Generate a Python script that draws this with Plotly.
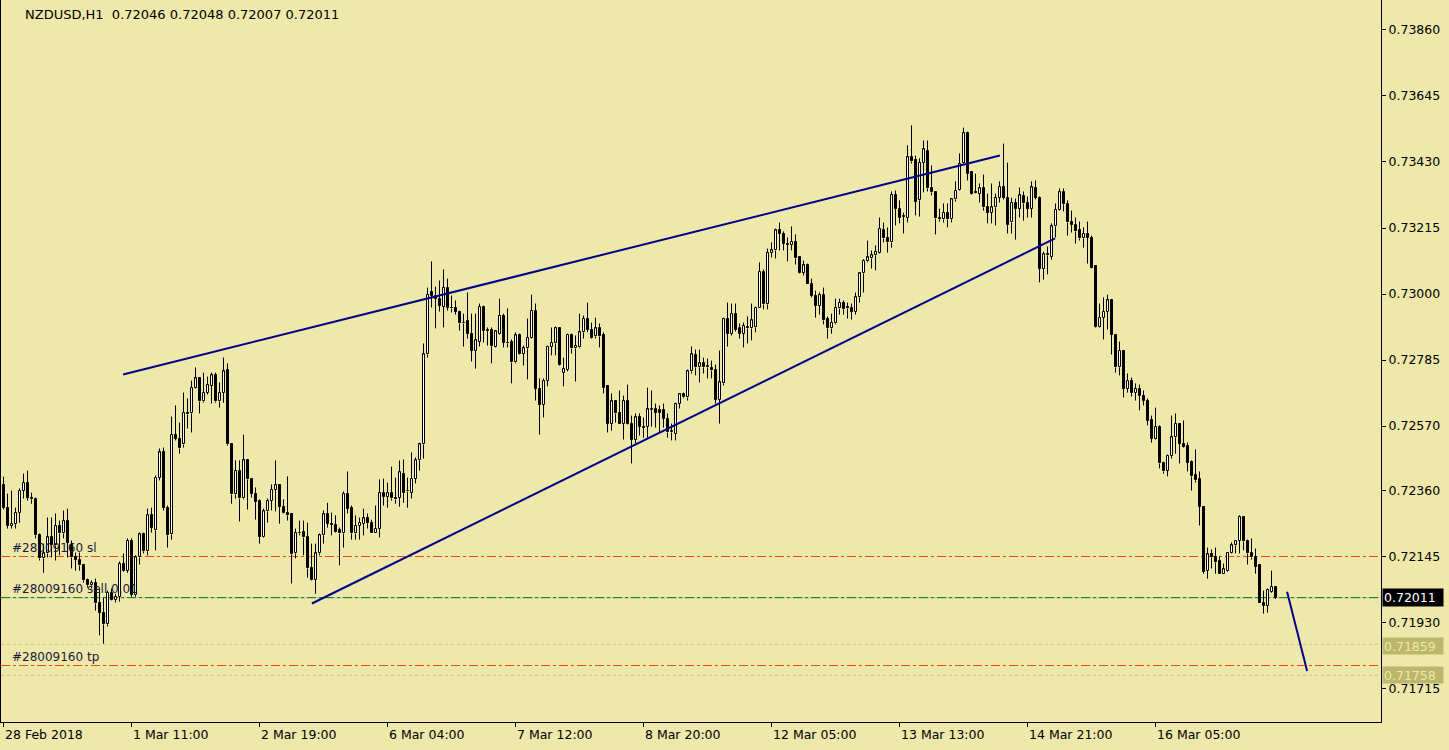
import plotly.graph_objects as go

symbol_title = "NZDUSD,H1  0.72046 0.72048 0.72007 0.72011"

opens = [
    0.72377, 0.72304, 0.72246, 0.72252, 0.72288, 0.72360, 0.72386, 0.72337, 0.72331, 0.72214,
    0.72139, 0.72155, 0.72207, 0.72181, 0.72246, 0.72220, 0.72262, 0.72181, 0.72142, 0.72135,
    0.72116, 0.72067, 0.72051, 0.72060, 0.71992, 0.71962, 0.71924, 0.72027, 0.72005, 0.72014,
    0.72122, 0.72099, 0.72197, 0.72021, 0.72142, 0.72217, 0.72162, 0.72279, 0.72230, 0.72402,
    0.72484, 0.72304, 0.72217, 0.72542, 0.72529, 0.72510, 0.72614, 0.72611, 0.72695, 0.72725,
    0.72650, 0.72679, 0.72702, 0.72735, 0.72650, 0.72679, 0.72754, 0.72510, 0.72347, 0.72425,
    0.72334, 0.72458, 0.72396, 0.72350, 0.72327, 0.72210, 0.72292, 0.72327, 0.72363, 0.72377,
    0.72307, 0.72288, 0.72282, 0.72155, 0.72223, 0.72226, 0.72210, 0.72106, 0.72070, 0.72155,
    0.72214, 0.72282, 0.72252, 0.72249, 0.72230, 0.72220, 0.72350, 0.72304, 0.72220, 0.72246,
    0.72252, 0.72269, 0.72255, 0.72220, 0.72236, 0.72353, 0.72340, 0.72353, 0.72337, 0.72337,
    0.72415, 0.72357, 0.72353, 0.72399, 0.72458, 0.72510, 0.72803, 0.73005, 0.72995, 0.72985,
    0.72959, 0.73018, 0.72956, 0.72953, 0.72943, 0.72907, 0.72911, 0.72871, 0.72816, 0.72845,
    0.72959, 0.72881, 0.72884, 0.72829, 0.72871, 0.72930, 0.72842, 0.72845, 0.72777, 0.72865,
    0.72806, 0.72823, 0.72858, 0.72946, 0.72692, 0.72640, 0.72718, 0.72829, 0.72839, 0.72888,
    0.72744, 0.72754, 0.72868, 0.72823, 0.72826, 0.72875, 0.72920, 0.72884, 0.72862, 0.72888,
    0.72865, 0.72699, 0.72578, 0.72650, 0.72614, 0.72578, 0.72653, 0.72575, 0.72526, 0.72598,
    0.72568, 0.72568, 0.72621, 0.72627, 0.72621, 0.72621, 0.72594, 0.72549, 0.72545, 0.72643,
    0.72673, 0.72663, 0.72748, 0.72800, 0.72761, 0.72774, 0.72761, 0.72758, 0.72754, 0.72656,
    0.72709, 0.72920, 0.72871, 0.72936, 0.72888, 0.72871, 0.72894, 0.72888, 0.72891, 0.72953,
    0.73073, 0.72966, 0.73135, 0.73142, 0.73207, 0.73197, 0.73164, 0.73161, 0.73171, 0.73119,
    0.73070, 0.73093, 0.73034, 0.72995, 0.72962, 0.72998, 0.72917, 0.72888, 0.72904, 0.72953,
    0.72972, 0.72959, 0.72956, 0.72943, 0.72989, 0.73067, 0.73106, 0.73116, 0.73126, 0.73135,
    0.73210, 0.73184, 0.73168, 0.73324, 0.73278, 0.73255, 0.73249, 0.73445, 0.73435, 0.73305,
    0.73428, 0.73467, 0.73344, 0.73331, 0.73246, 0.73243, 0.73265, 0.73243, 0.73308, 0.73340,
    0.73428, 0.73523, 0.73396, 0.73331, 0.73327, 0.73344, 0.73282, 0.73265, 0.73282, 0.73314,
    0.73350, 0.73314, 0.73233, 0.73298, 0.73278, 0.73318, 0.73295, 0.73278, 0.73344, 0.73314,
    0.73083, 0.73129, 0.73122, 0.73220, 0.73275, 0.73331, 0.73292, 0.73233, 0.73226, 0.73207,
    0.73181, 0.73197, 0.73184, 0.73090, 0.72894, 0.72923, 0.72943, 0.72979, 0.72868, 0.72761,
    0.72816, 0.72692, 0.72718, 0.72679, 0.72692, 0.72669, 0.72653, 0.72591, 0.72529, 0.72568,
    0.72451, 0.72425, 0.72474, 0.72533, 0.72578, 0.72513, 0.72506, 0.72454, 0.72409, 0.72396,
    0.72307, 0.72099, 0.72152, 0.72145, 0.72132, 0.72089, 0.72099, 0.72158, 0.72181, 0.72197,
    0.72275, 0.72197, 0.72155, 0.72145, 0.72116, 0.71992, 0.71985, 0.72031, 0.72046,
]

highs = [
    0.72405, 0.72350, 0.72360, 0.72304, 0.72367, 0.72415, 0.72425, 0.72353, 0.72337, 0.72220,
    0.72187, 0.72272, 0.72272, 0.72285, 0.72262, 0.72295, 0.72301, 0.72197, 0.72158, 0.72158,
    0.72116, 0.72073, 0.72067, 0.72073, 0.72041, 0.72011, 0.72034, 0.72041, 0.72024, 0.72129,
    0.72155, 0.72204, 0.72204, 0.72149, 0.72223, 0.72223, 0.72301, 0.72304, 0.72409, 0.72497,
    0.72500, 0.72311, 0.72601, 0.72637, 0.72581, 0.72679, 0.72660, 0.72718, 0.72761, 0.72728,
    0.72744, 0.72731, 0.72744, 0.72744, 0.72712, 0.72793, 0.72774, 0.72510, 0.72458, 0.72458,
    0.72542, 0.72461, 0.72399, 0.72370, 0.72331, 0.72301, 0.72334, 0.72380, 0.72458, 0.72380,
    0.72331, 0.72406, 0.72285, 0.72236, 0.72262, 0.72262, 0.72255, 0.72187, 0.72187, 0.72220,
    0.72295, 0.72320, 0.72288, 0.72279, 0.72239, 0.72357, 0.72422, 0.72311, 0.72279, 0.72272,
    0.72301, 0.72285, 0.72265, 0.72311, 0.72396, 0.72399, 0.72386, 0.72438, 0.72402, 0.72458,
    0.72461, 0.72402, 0.72484, 0.72468, 0.72516, 0.72839, 0.73021, 0.73106, 0.73024, 0.73044,
    0.73080, 0.73050, 0.72995, 0.72979, 0.72946, 0.72936, 0.73005, 0.72936, 0.72936, 0.72969,
    0.72962, 0.72891, 0.72891, 0.72881, 0.72985, 0.72936, 0.72953, 0.72852, 0.72875, 0.72871,
    0.72832, 0.72920, 0.72998, 0.72969, 0.72725, 0.72725, 0.72832, 0.72891, 0.72894, 0.72891,
    0.72793, 0.72871, 0.72871, 0.72865, 0.72936, 0.72930, 0.72972, 0.72907, 0.72923, 0.72904,
    0.72875, 0.72699, 0.72676, 0.72653, 0.72686, 0.72669, 0.72705, 0.72604, 0.72611, 0.72611,
    0.72598, 0.72695, 0.72686, 0.72643, 0.72637, 0.72643, 0.72611, 0.72578, 0.72646, 0.72676,
    0.72679, 0.72754, 0.72829, 0.72819, 0.72819, 0.72793, 0.72790, 0.72783, 0.72770, 0.72816,
    0.72923, 0.72972, 0.72969, 0.72969, 0.72904, 0.72907, 0.72927, 0.72969, 0.72959, 0.73103,
    0.73080, 0.73148, 0.73168, 0.73213, 0.73233, 0.73204, 0.73184, 0.73220, 0.73194, 0.73119,
    0.73109, 0.73099, 0.73050, 0.73011, 0.73005, 0.73021, 0.72927, 0.72936, 0.72985, 0.72985,
    0.72979, 0.72972, 0.72969, 0.73005, 0.73070, 0.73113, 0.73174, 0.73142, 0.73158, 0.73249,
    0.73233, 0.73217, 0.73334, 0.73337, 0.73305, 0.73265, 0.73484, 0.73549, 0.73451, 0.73442,
    0.73500, 0.73500, 0.73419, 0.73334, 0.73278, 0.73295, 0.73295, 0.73311, 0.73367, 0.73458,
    0.73542, 0.73529, 0.73399, 0.73392, 0.73360, 0.73389, 0.73327, 0.73360, 0.73327, 0.73367,
    0.73490, 0.73428, 0.73314, 0.73311, 0.73347, 0.73334, 0.73318, 0.73367, 0.73370, 0.73318,
    0.73138, 0.73155, 0.73230, 0.73295, 0.73344, 0.73344, 0.73305, 0.73272, 0.73249, 0.73236,
    0.73217, 0.73236, 0.73190, 0.73090, 0.72969, 0.72989, 0.72998, 0.72982, 0.72868, 0.72845,
    0.72816, 0.72741, 0.72728, 0.72709, 0.72705, 0.72686, 0.72660, 0.72604, 0.72630, 0.72572,
    0.72454, 0.72477, 0.72604, 0.72611, 0.72578, 0.72588, 0.72516, 0.72458, 0.72494, 0.72422,
    0.72307, 0.72174, 0.72168, 0.72174, 0.72145, 0.72122, 0.72158, 0.72191, 0.72197, 0.72279,
    0.72275, 0.72200, 0.72204, 0.72171, 0.72116, 0.72034, 0.72041, 0.72099, 0.72048,
]

lows = [
    0.72298, 0.72236, 0.72236, 0.72236, 0.72255, 0.72334, 0.72327, 0.72317, 0.72204, 0.72132,
    0.72092, 0.72142, 0.72142, 0.72132, 0.72149, 0.72204, 0.72142, 0.72106, 0.72099, 0.72099,
    0.72060, 0.72044, 0.72041, 0.71969, 0.71888, 0.71861, 0.71917, 0.72002, 0.71995, 0.71998,
    0.72096, 0.72092, 0.72014, 0.72014, 0.72119, 0.72155, 0.72149, 0.72223, 0.72165, 0.72393,
    0.72295, 0.72174, 0.72200, 0.72523, 0.72480, 0.72500, 0.72562, 0.72549, 0.72692, 0.72611,
    0.72646, 0.72673, 0.72643, 0.72646, 0.72630, 0.72646, 0.72506, 0.72317, 0.72334, 0.72259,
    0.72331, 0.72298, 0.72337, 0.72265, 0.72187, 0.72207, 0.72255, 0.72295, 0.72292, 0.72252,
    0.72285, 0.72262, 0.72057, 0.72139, 0.72214, 0.72149, 0.72076, 0.72067, 0.72024, 0.72149,
    0.72187, 0.72239, 0.72214, 0.72223, 0.72116, 0.72174, 0.72285, 0.72200, 0.72200, 0.72200,
    0.72214, 0.72236, 0.72220, 0.72220, 0.72207, 0.72311, 0.72304, 0.72327, 0.72317, 0.72307,
    0.72320, 0.72304, 0.72334, 0.72383, 0.72425, 0.72464, 0.72793, 0.72956, 0.72888, 0.72943,
    0.72891, 0.72946, 0.72940, 0.72933, 0.72881, 0.72829, 0.72855, 0.72780, 0.72757, 0.72829,
    0.72842, 0.72832, 0.72774, 0.72826, 0.72868, 0.72826, 0.72826, 0.72709, 0.72774, 0.72803,
    0.72767, 0.72722, 0.72855, 0.72653, 0.72542, 0.72598, 0.72699, 0.72800, 0.72800, 0.72767,
    0.72699, 0.72748, 0.72806, 0.72715, 0.72823, 0.72855, 0.72875, 0.72855, 0.72855, 0.72826,
    0.72676, 0.72549, 0.72555, 0.72581, 0.72578, 0.72526, 0.72575, 0.72448, 0.72513, 0.72539,
    0.72532, 0.72532, 0.72568, 0.72565, 0.72549, 0.72565, 0.72532, 0.72523, 0.72523, 0.72627,
    0.72660, 0.72653, 0.72741, 0.72735, 0.72712, 0.72741, 0.72725, 0.72725, 0.72643, 0.72578,
    0.72702, 0.72829, 0.72865, 0.72878, 0.72855, 0.72826, 0.72839, 0.72849, 0.72875, 0.72953,
    0.72950, 0.72950, 0.73119, 0.73116, 0.73142, 0.73142, 0.73106, 0.73142, 0.73096, 0.73067,
    0.73060, 0.73034, 0.72989, 0.72923, 0.72933, 0.72901, 0.72855, 0.72871, 0.72901, 0.72933,
    0.72933, 0.72920, 0.72917, 0.72933, 0.72972, 0.73005, 0.73103, 0.73083, 0.73077, 0.73132,
    0.73168, 0.73135, 0.73151, 0.73223, 0.73230, 0.73197, 0.73233, 0.73425, 0.73256, 0.73252,
    0.73331, 0.73334, 0.73321, 0.73194, 0.73236, 0.73233, 0.73217, 0.73233, 0.73301, 0.73337,
    0.73425, 0.73370, 0.73324, 0.73327, 0.73298, 0.73272, 0.73230, 0.73230, 0.73223, 0.73298,
    0.73308, 0.73197, 0.73197, 0.73177, 0.73249, 0.73239, 0.73249, 0.73249, 0.73308, 0.73038,
    0.73047, 0.73064, 0.73112, 0.73184, 0.73272, 0.73269, 0.73190, 0.73200, 0.73164, 0.73174,
    0.73151, 0.73099, 0.73083, 0.72891, 0.72891, 0.72852, 0.72884, 0.72803, 0.72744, 0.72735,
    0.72663, 0.72679, 0.72666, 0.72653, 0.72621, 0.72637, 0.72572, 0.72516, 0.72526, 0.72432,
    0.72415, 0.72406, 0.72464, 0.72480, 0.72448, 0.72500, 0.72422, 0.72360, 0.72386, 0.72246,
    0.72089, 0.72073, 0.72106, 0.72089, 0.72089, 0.72089, 0.72096, 0.72155, 0.72155, 0.72155,
    0.72165, 0.72119, 0.72135, 0.72089, 0.71992, 0.71959, 0.71962, 0.72027, 0.72007,
]

closes = [
    0.72304, 0.72246, 0.72252, 0.72288, 0.72360, 0.72386, 0.72337, 0.72331, 0.72214, 0.72139,
    0.72155, 0.72207, 0.72181, 0.72246, 0.72220, 0.72262, 0.72190, 0.72142, 0.72135, 0.72116,
    0.72067, 0.72051, 0.72060, 0.71992, 0.71962, 0.71924, 0.72027, 0.72005, 0.72014, 0.72122,
    0.72099, 0.72197, 0.72021, 0.72142, 0.72217, 0.72162, 0.72279, 0.72239, 0.72402, 0.72484,
    0.72304, 0.72214, 0.72542, 0.72529, 0.72497, 0.72614, 0.72608, 0.72695, 0.72725, 0.72650,
    0.72679, 0.72705, 0.72735, 0.72650, 0.72679, 0.72748, 0.72510, 0.72347, 0.72425, 0.72334,
    0.72458, 0.72396, 0.72350, 0.72324, 0.72210, 0.72292, 0.72327, 0.72363, 0.72377, 0.72307,
    0.72288, 0.72279, 0.72152, 0.72223, 0.72220, 0.72207, 0.72106, 0.72070, 0.72155, 0.72214,
    0.72282, 0.72252, 0.72249, 0.72226, 0.72220, 0.72350, 0.72301, 0.72220, 0.72246, 0.72255,
    0.72269, 0.72255, 0.72220, 0.72236, 0.72353, 0.72340, 0.72353, 0.72334, 0.72331, 0.72419,
    0.72353, 0.72360, 0.72399, 0.72458, 0.72510, 0.72803, 0.72998, 0.72995, 0.72985, 0.72962,
    0.73021, 0.72956, 0.72953, 0.72943, 0.72904, 0.72904, 0.72871, 0.72816, 0.72849, 0.72959,
    0.72881, 0.72884, 0.72832, 0.72878, 0.72930, 0.72842, 0.72839, 0.72777, 0.72865, 0.72806,
    0.72823, 0.72858, 0.72946, 0.72692, 0.72640, 0.72718, 0.72829, 0.72842, 0.72888, 0.72770,
    0.72757, 0.72868, 0.72823, 0.72832, 0.72875, 0.72920, 0.72884, 0.72858, 0.72888, 0.72862,
    0.72695, 0.72578, 0.72650, 0.72611, 0.72578, 0.72653, 0.72578, 0.72526, 0.72598, 0.72568,
    0.72565, 0.72624, 0.72627, 0.72614, 0.72614, 0.72594, 0.72549, 0.72555, 0.72643, 0.72673,
    0.72663, 0.72748, 0.72803, 0.72761, 0.72774, 0.72761, 0.72764, 0.72751, 0.72656, 0.72712,
    0.72920, 0.72871, 0.72936, 0.72884, 0.72871, 0.72897, 0.72888, 0.72914, 0.72956, 0.73073,
    0.72966, 0.73135, 0.73142, 0.73207, 0.73197, 0.73164, 0.73161, 0.73171, 0.73116, 0.73070,
    0.73093, 0.73034, 0.72995, 0.72962, 0.72998, 0.72914, 0.72888, 0.72907, 0.72956, 0.72972,
    0.72950, 0.72953, 0.72943, 0.72989, 0.73067, 0.73109, 0.73119, 0.73126, 0.73138, 0.73213,
    0.73181, 0.73168, 0.73324, 0.73278, 0.73249, 0.73252, 0.73445, 0.73432, 0.73301, 0.73428,
    0.73471, 0.73344, 0.73331, 0.73246, 0.73243, 0.73265, 0.73243, 0.73308, 0.73337, 0.73425,
    0.73523, 0.73392, 0.73327, 0.73328, 0.73344, 0.73282, 0.73265, 0.73282, 0.73314, 0.73350,
    0.73314, 0.73226, 0.73298, 0.73278, 0.73321, 0.73295, 0.73278, 0.73347, 0.73314, 0.73083,
    0.73129, 0.73126, 0.73220, 0.73275, 0.73331, 0.73292, 0.73233, 0.73226, 0.73204, 0.73181,
    0.73197, 0.73184, 0.73086, 0.72894, 0.72923, 0.72943, 0.72979, 0.72868, 0.72761, 0.72816,
    0.72692, 0.72718, 0.72679, 0.72692, 0.72669, 0.72653, 0.72588, 0.72529, 0.72568, 0.72448,
    0.72422, 0.72474, 0.72533, 0.72578, 0.72513, 0.72503, 0.72451, 0.72406, 0.72393, 0.72307,
    0.72096, 0.72152, 0.72142, 0.72126, 0.72089, 0.72103, 0.72158, 0.72181, 0.72197, 0.72275,
    0.72194, 0.72155, 0.72142, 0.72112, 0.71992, 0.71985, 0.72037, 0.72046, 0.72011,
]

time_tick_bars = [0, 32, 64, 96, 128, 160, 192, 224, 256, 288]
time_tick_labels = ["28 Feb 2018", "1 Mar 11:00", "2 Mar 19:00", "6 Mar 04:00", "7 Mar 12:00",
                    "8 Mar 20:00", "12 Mar 05:00", "13 Mar 13:00", "14 Mar 21:00", "16 Mar 05:00"]
price_ticks = [0.73860, 0.73645, 0.73430, 0.73215, 0.73000, 0.72785, 0.72570,
               0.72360, 0.72145, 0.71930, 0.71715]

# hand-drawn trend lines (bar index, price)
upper_trend_bars = [29.9, 249.1]
upper_trend_prices = [0.72738, 0.73451]
lower_trend_bars = [77.1, 262.9]
lower_trend_prices = [0.71992, 0.73181]
proj_trend_bars = [320.9, 325.9]
proj_trend_prices = [0.72030, 0.71772]

# order / price levels
order_sl = 0.72145
order_entry = 0.72011
order_tp = 0.71790
bid_price = 0.72011
level_upper = 0.71859
level_lower = 0.71758
order_label_sl = "#28009160 sl"
order_label_entry = "#28009160 sell 0.01"
order_label_tp = "#28009160 tp"

BG = "#EEE8AA"
FONT = "DejaVu Sans"
LINE_BLUE = "#00008B"
ORDER_RED = "#EE4A10"
DASHDOT = "9px,3px,3px,3px"
AX_FS = 12.5

n = len(closes)
idx = list(range(n))
body_base = [min(o, c) for o, c in zip(opens, closes)]
body_h = [max(abs(c - o), 0.000006) for o, c in zip(opens, closes)]
body_col = ["white" if c >= o else "black" for o, c in zip(opens, closes)]

wx, wy = [], []
for i, (o, h, l, c) in enumerate(zip(opens, highs, lows, closes)):
    top, bot = max(o, c), min(o, c)
    if h > top:
        wx += [i, i, None]
        wy += [h, top, None]
    if l < bot:
        wx += [i, i, None]
        wy += [bot, l, None]

fig = go.Figure()
fig.add_trace(go.Bar(x=idx, y=body_h, base=body_base, width=0.5,
                     marker=dict(color=body_col, line=dict(color="black", width=1)),
                     hoverinfo="skip"))
fig.add_trace(go.Scatter(x=wx, y=wy, mode="lines", line=dict(color="black", width=1),
                         hoverinfo="skip", connectgaps=False))
for bx, by in [(upper_trend_bars, upper_trend_prices),
               (lower_trend_bars, lower_trend_prices),
               (proj_trend_bars, proj_trend_prices)]:
    fig.add_trace(go.Scatter(x=bx, y=by, mode="lines",
                             line=dict(color=LINE_BLUE, width=2), hoverinfo="skip"))

shapes = []
def hline(y, color, dash, width=1):
    shapes.append(dict(type="line", xref="paper", x0=0, x1=1, yref="y", y0=y, y1=y,
                       line=dict(color=color, width=width, dash=dash), layer="below"))

hline(level_upper, "#C8C088", "3px,3px")
hline(level_lower, "#C8C088", "3px,3px")
hline(bid_price, "#C0C0C0", "solid")
hline(order_entry, "#008000", DASHDOT)
hline(order_sl, ORDER_RED, DASHDOT)
hline(order_tp, ORDER_RED, DASHDOT)

annotations = []
annotations.append(dict(text=symbol_title, xref="paper", x=0, xanchor="left", xshift=22,
                        yref="paper", y=1, yanchor="top", yshift=-5, showarrow=False,
                        font=dict(family=FONT, size=13, color="black")))
for lbl, price in [(order_label_sl, order_sl), (order_label_entry, order_entry),
                   (order_label_tp, order_tp)]:
    annotations.append(dict(text=lbl, xref="paper", x=0, xanchor="left", xshift=9,
                            yref="y", y=price, yanchor="middle", yshift=9, showarrow=False,
                            font=dict(family=FONT, size=12, color="#1A1A40")))
for b, t in zip(time_tick_bars, time_tick_labels):
    annotations.append(dict(text=t, xref="x", x=b, xanchor="left", xshift=-1,
                            yref="paper", y=0, yanchor="top", yshift=-3, showarrow=False,
                            font=dict(family=FONT, size=AX_FS, color="black")))
annotations.append(dict(text=f"{bid_price:.5f}", xref="paper", x=1, xanchor="left", xshift=1,
                        yref="y", y=bid_price, yanchor="middle", showarrow=False,
                        bgcolor="black", font=dict(family=FONT, size=AX_FS, color="white"),
                        width=58, height=15, align="left", borderpad=1))
for lv, ys in [(level_upper, -2), (level_lower, 0)]:
    annotations.append(dict(text=f"{lv:.5f}", xref="paper", x=1, xanchor="left", xshift=1,
                            yref="y", y=lv, yanchor="middle", yshift=ys, showarrow=False,
                            bgcolor="#BDB76B", font=dict(family=FONT, size=AX_FS, color="#EEE8AA"),
                            width=58, height=14, align="left", borderpad=1))

fig.update_layout(
    width=1449, height=750,
    margin=dict(l=1, r=68, t=0, b=28),
    paper_bgcolor=BG, plot_bgcolor=BG,
    showlegend=False, hovermode=False, bargap=0,
    font=dict(family=FONT, size=12, color="black"),
    shapes=shapes, annotations=annotations,
    xaxis=dict(range=[-0.625, 344.375], showgrid=False, zeroline=False,
               showline=True, linecolor="black", linewidth=1, mirror=True,
               ticks="outside", ticklen=4, tickcolor="black",
               tickvals=time_tick_bars, showticklabels=False, fixedrange=True),
    yaxis=dict(range=[0.716060, 0.739576], side="right", showgrid=False, zeroline=False,
               showline=True, linecolor="black", linewidth=1, mirror=True,
               ticks="outside", ticklen=4, tickcolor="black",
               tickvals=price_ticks, ticktext=[f"{v:.5f}" for v in price_ticks],
               tickfont=dict(family=FONT, size=AX_FS, color="black"), fixedrange=True),
)

fig.write_html("out.html", config={"displayModeBar": False},
               post_script="document.body.style.margin='0';document.body.style.background='" + BG + "';")
